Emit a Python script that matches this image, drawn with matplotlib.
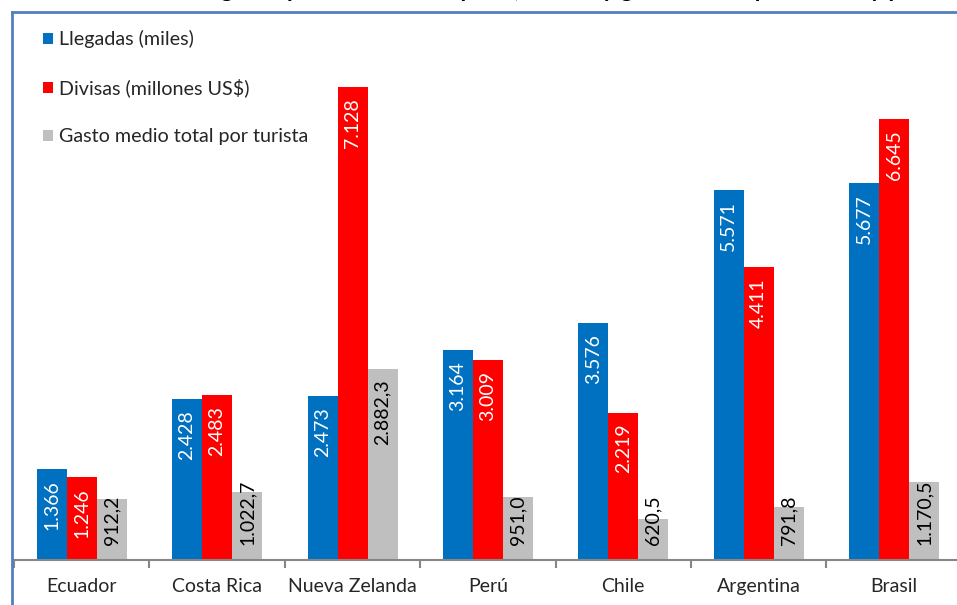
import numpy as np
import matplotlib
matplotlib.use("Agg")
import matplotlib.pyplot as plt
from matplotlib.lines import Line2D

plt.rcParams['font.family'] = ['Lato', 'DejaVu Sans']

paises = ["Ecuador", "Costa Rica", "Nueva Zelanda", "Perú", "Chile", "Argentina", "Brasil"]
llegadas = [1366, 2428, 2473, 3164, 3576, 5571, 5677]
divisas = [1246, 2483, 7128, 3009, 2219, 4411, 6645]
gasto = [912.2, 1022.7, 2882.3, 951.0, 620.5, 791.8, 1170.5]

series_names = ["Llegadas (miles)", "Divisas (millones US$)", "Gasto medio total por turista"]
colores = ["#0070C0", "#FF0000", "#BFBFBF"]
txt_col = ["white", "white", "black"]


def fmt_int(v):
    return "{:,}".format(int(v)).replace(",", ".")


def fmt_dec(v):
    s = "{:,.1f}".format(v)
    return s.replace(",", "X").replace(".", ",").replace("X", ".")


W, H = 957, 605
fig = plt.figure(figsize=(W / 100, H / 100), dpi=100)

# chart border (blue), cut off right / bottom
fig.add_artist(Line2D([12 / W, 12 / W], [0, 1 - 12 / H], color="#4F81BD", lw=2))
fig.add_artist(Line2D([12 / W, 1], [1 - 12 / H, 1 - 12 / H], color="#4F81BD", lw=2))

# title, cut off at the top of the picture (only descenders show)
fig.text(0.585, 1 + 3 / H, "Llegadas por turismo receptivo, divisas y gasto medio por turista y país",
         ha="center", va="baseline", fontsize=17, fontweight="bold", color="black")

px_per_unit = 473 / 7128.0
left_px, right_px = 14, 14 + 135.4 * 7
base_px, top_px = 560, 20
ax = fig.add_axes([left_px / W, (H - base_px) / H, (right_px - left_px) / W, (base_px - top_px) / H])
ax.set_xlim(-0.5, 6.5)
ax.set_ylim(0, (base_px - top_px) / px_per_unit)

x = np.arange(len(paises))
bw = 30 / 135.4
datos = [llegadas, divisas, gasto]
for i, vals in enumerate(datos):
    xs = x + (i - 1) * bw
    ax.bar(xs, vals, width=bw, color=colores[i], label=series_names[i], zorder=2)
    for xi, v in zip(xs, vals):
        lab = fmt_dec(v) if i == 2 else fmt_int(v)
        bar_px = v * px_per_unit
        len_px = 11 * len(lab)
        if bar_px < len_px + 20:
            ax.annotate(lab, (xi, 0), xytext=(0, 11), textcoords="offset points",
                        rotation=90, ha="center", va="bottom", fontsize=14, color=txt_col[i])
        else:
            ax.annotate(lab, (xi, v), xytext=(0, -8), textcoords="offset points",
                        rotation=90, ha="center", va="top", fontsize=14, color=txt_col[i])

for s in ["top", "right", "left"]:
    ax.spines[s].set_visible(False)
ax.spines["bottom"].set_color("#868686")
ax.spines["bottom"].set_linewidth(1.5)
ax.set_yticks([])
ax.set_xticks(x)
ax.set_xticklabels(paises, fontsize=14, color="#262626")
ax.set_xticks(np.arange(-0.5, 7, 1), minor=True)
ax.tick_params(axis="x", which="major", length=0, pad=13)
ax.tick_params(axis="x", which="minor", length=6, width=1.5, color="#868686")

leg = ax.legend(loc="upper left", bbox_to_anchor=(16 / (right_px - left_px), 1.005),
                frameon=False, fontsize=14.2, handlelength=0.5, handleheight=0.5,
                handletextpad=0.3, labelspacing=1.55, borderaxespad=0.25)
for t in leg.get_texts():
    t.set_color("#262626")

fig.savefig("out.png", dpi=100)
